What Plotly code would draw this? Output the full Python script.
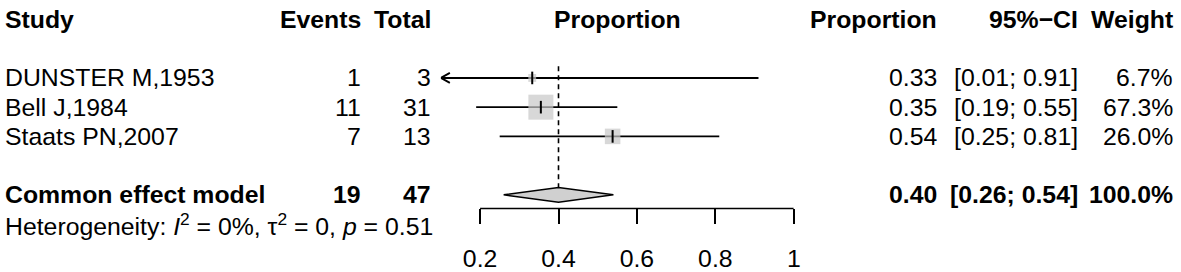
import plotly.graph_objects as go

# ---------------- data ----------------
studies = ["DUNSTER M,1953", "Bell J,1984", "Staats PN,2007"]
events = [1, 11, 7]
totals = [3, 31, 13]
proportions = [0.333, 0.355, 0.538]
ci_lower = [0.01, 0.19, 0.25]
ci_upper = [0.91, 0.55, 0.81]
weights = [6.7, 67.3, 26.0]

pooled_label = "Common effect model"
pooled_events = 19
pooled_total = 47
pooled_est = 0.40
pooled_lower = 0.26
pooled_upper = 0.54
pooled_weight = 100.0

heterogeneity = "Heterogeneity: <i>I</i><sup>2</sup> = 0%, τ<sup>2</sup> = 0, <i>p</i> = 0.51"

tick_values = [0.2, 0.4, 0.6, 0.8, 1.0]
tick_labels = ["0.2", "0.4", "0.6", "0.8", "1"]
x_limits = [0.1, 1.0]

# ---------------- layout helpers ----------------
W, H = 1181, 272
FONT = "Liberation Sans, Arial, sans-serif"
FS = 24.8
study_rows = [2, 3, 4]
pooled_row = 6
header_row = 0
het_px = 230


def px(x):
    return x / W


fig = go.Figure()

# CI lines
for i in range(len(studies)):
    lo = max(ci_lower[i], x_limits[0])
    fig.add_trace(go.Scatter(
        x=[lo, ci_upper[i]], y=[study_rows[i], study_rows[i]],
        mode="lines", line=dict(color="black", width=1.9),
        hoverinfo="skip", showlegend=False, cliponaxis=False))
    if ci_lower[i] < x_limits[0]:
        fig.add_shape(type="path", xref="x", yref="y",
                      xsizemode="pixel", ysizemode="pixel",
                      xanchor=x_limits[0], yanchor=study_rows[i],
                      path="M 9,5 L 0,0 L 9,-5",
                      line=dict(color="black", width=1.9))

# weight squares
max_w = max(weights)
fig.add_trace(go.Scatter(
    x=proportions, y=study_rows, mode="markers",
    marker=dict(symbol="square", color="#c8c8c8",
                size=[25 * (w / max_w) ** 0.5 for w in weights],
                line=dict(width=0)),
    hoverinfo="skip", showlegend=False, cliponaxis=False))
# point estimate ticks
fig.add_trace(go.Scatter(
    x=proportions, y=study_rows, mode="markers",
    marker=dict(symbol="line-ns", size=9,
                line=dict(color="black", width=2)),
    hoverinfo="skip", showlegend=False, cliponaxis=False))

# dashed reference line at pooled estimate
fig.add_trace(go.Scatter(
    x=[pooled_est, pooled_est], y=[1.6, pooled_row - 0.25],
    mode="lines", line=dict(color="black", width=1.6, dash="5px,4px"),
    hoverinfo="skip", showlegend=False))

# pooled diamond
fig.add_trace(go.Scatter(
    x=[pooled_lower, pooled_est, pooled_upper, pooled_est, pooled_lower],
    y=[pooled_row, pooled_row - 0.25, pooled_row, pooled_row + 0.25, pooled_row],
    mode="lines", fill="toself", fillcolor="#d0d0d0",
    line=dict(color="black", width=1.5),
    hoverinfo="skip", showlegend=False, cliponaxis=False))

# axis line from first to last tick
fig.add_shape(type="line", xref="x", yref="y domain",
              x0=tick_values[0], x1=tick_values[-1], y0=0, y1=0,
              line=dict(color="black", width=1.5))

# ---------------- text table ----------------
ann = []


def txt(x, row, s, anchor, bold=False, size=FS, yref="y"):
    ann.append(dict(x=px(x), y=row, xref="paper", yref=yref, text=s,
                    xanchor=anchor, yanchor="middle", showarrow=False,
                    borderpad=0, borderwidth=0,
                    font=dict(family=FONT, size=size, color="black",
                              weight="bold" if bold else "normal")))


col_study = 5
col_events = 363
col_total = 434
col_prop = 943
col_ci = 1084
col_weight = 1180

# headers
txt(col_study, header_row, "Study", "left", True)
txt(col_events, header_row, "Events", "right", True)
txt(col_total, header_row, "Total", "right", True)
txt(621, header_row, "Proportion", "center", True)
txt(col_prop, header_row, "Proportion", "right", True)
txt(col_ci, header_row, "95%−CI", "right", True)
txt(col_weight, header_row, "Weight", "right", True)

for i, s in enumerate(studies):
    r = study_rows[i]
    txt(col_study, r, s, "left")
    txt(col_events, r, str(events[i]), "right")
    txt(col_total, r, str(totals[i]), "right")
    txt(col_prop, r, f"{proportions[i]:.2f}", "right")
    txt(col_ci, r, f"[{ci_lower[i]:.2f}; {ci_upper[i]:.2f}]", "right")
    txt(col_weight, r, f"{weights[i]:.1f}%", "right")

txt(col_study, pooled_row, pooled_label, "left", True)
txt(col_events, pooled_row, str(pooled_events), "right", True)
txt(col_total, pooled_row, str(pooled_total), "right", True)
txt(col_prop, pooled_row, f"{pooled_est:.2f}", "right", True)
txt(col_ci, pooled_row, f"[{pooled_lower:.2f}; {pooled_upper:.2f}]", "right", True)
txt(col_weight, pooled_row, f"{pooled_weight:.1f}%", "right", True)

txt(col_study, 1 - het_px / H, heterogeneity, "left", yref="paper")

# ---------------- layout ----------------
axis_px = 214
fig.update_layout(
    width=W, height=H,
    margin=dict(l=0, r=0, t=0, b=0),
    paper_bgcolor="white", plot_bgcolor="white",
    annotations=ann,
    xaxis=dict(domain=[px(443.5), px(798.5)], range=x_limits,
               tickvals=tick_values, ticktext=tick_labels,
               ticks="outside", ticklen=15, tickwidth=1.5, tickcolor="black",
               showgrid=False, zeroline=False, showline=False,
               tickfont=dict(family=FONT, size=FS, color="black"),
               ticklabelstandoff=13),
    yaxis=dict(domain=[1 - axis_px / H, 1],
               range=[(axis_px - 20) / 30, -20 / 30],
               visible=False, showgrid=False, zeroline=False),
)

fig.write_html(
    "out.html",
    config={"displayModeBar": False},
    post_script="document.body.style.margin='0';document.body.style.overflow='hidden';",
)
